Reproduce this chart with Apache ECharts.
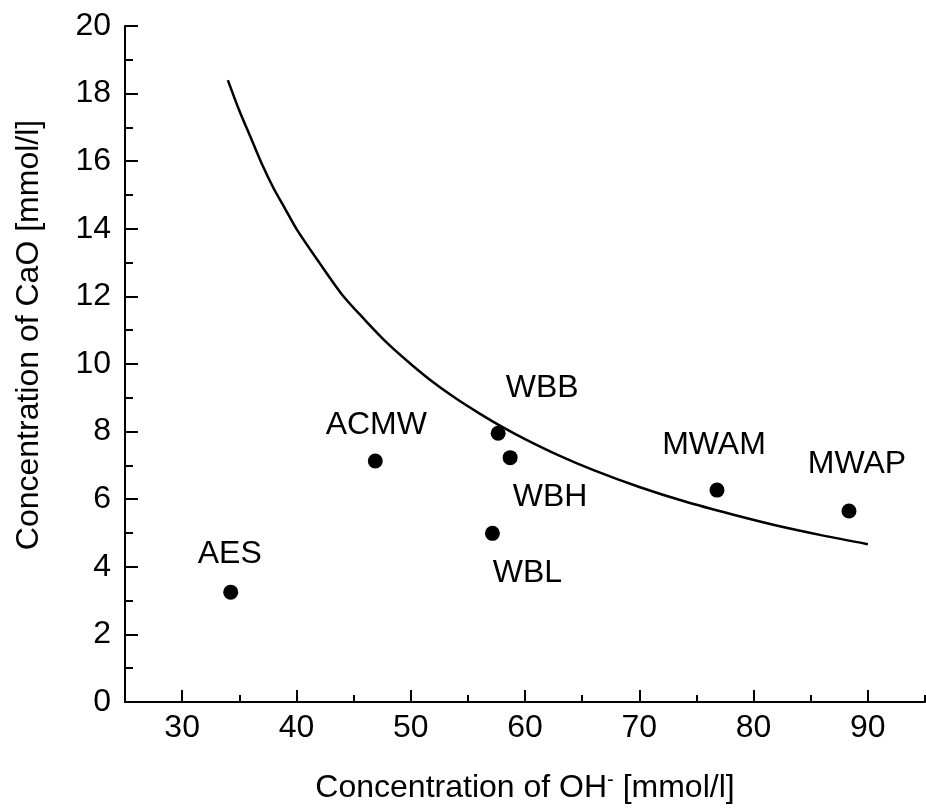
<!DOCTYPE html>
<html><head><meta charset="utf-8">
<script src="https://cdn.jsdelivr.net/npm/echarts@6/dist/echarts.min.js"></script>
<style>html,body{margin:0;padding:0;background:#fff}#c{width:926px;height:810px}</style>
</head><body><div id="c"></div>
<script>
const sampleNames = ['AES','ACMW','WBB','WBH','WBL','MWAM','MWAP'];
const ohValues   = [34.25, 46.9, 57.65, 58.7, 57.15, 76.8, 88.35];
const caoValues  = [3.25, 7.13, 7.95, 7.23, 4.99, 6.27, 5.65];
const curveOH  = [34, 35, 36, 37, 38, 39, 40, 42, 44, 46, 48, 50, 52, 54, 56, 58, 60, 63, 66, 70, 74, 78, 82, 86, 90];
const curveCaO = [18.4, 17.5, 16.7, 15.9, 15.2, 14.6, 14.0, 13.0, 12.05, 11.3, 10.6, 10.0, 9.45, 8.97, 8.54, 8.14, 7.78, 7.29, 6.86, 6.36, 5.93, 5.56, 5.22, 4.93, 4.67];
const xMajorTicks = [30, 40, 50, 60, 70, 80, 90];
const xMinorTicks = [35, 45, 55, 65, 75, 85, 95];

const labelOffsets = {AES:[-1,-38], ACMW:[1,-36], WBB:[44,-45], WBH:[40,40], WBL:[35,40], MWAM:[-3,-45], MWAP:[8,-47]};
const FONT = '"Liberation Sans", Arial, sans-serif';

const chart = echarts.init(document.getElementById('c'), null, {renderer:'canvas'});
chart.setOption({
  animation: false,
  backgroundColor: '#fff',
  textStyle: {fontFamily: FONT, color: '#000'},
  grid: {left: 125, right: 1, top: 26, bottom: 108, containLabel: false},
  xAxis: [{
    type: 'value', min: 25, max: 95,
    name: 'Concentration of OH{sup|-} [mmol/l]',
    nameLocation: 'middle', nameGap: 68,
    nameTextStyle: {fontSize: 32, fontFamily: FONT, color: '#000',
      rich: {sup: {fontSize: 20, fontFamily: FONT, color: '#000', padding: [0,0,16,0]}}},
    axisLine: {show: true, onZero: false, lineStyle: {color: '#000', width: 2}},
    axisTick: {show: true, inside: true, length: 12, lineStyle: {color: '#000', width: 2}, customValues: xMajorTicks},
    axisLabel: {fontSize: 32, fontFamily: FONT, color: '#000', margin: 10, customValues: xMajorTicks},
    splitLine: {show: false}
  }, {
    type: 'value', min: 25, max: 95, position: 'bottom',
    axisLine: {show: false},
    axisTick: {show: true, inside: true, length: 7, lineStyle: {color: '#000', width: 2}, customValues: xMinorTicks},
    axisLabel: {show: false},
    splitLine: {show: false}
  }],
  yAxis: {
    type: 'value', min: 0, max: 20, interval: 2,
    name: 'Concentration of CaO [mmol/l]',
    nameLocation: 'middle', nameGap: 80,
    nameTextStyle: {fontSize: 32, fontFamily: FONT, color: '#000', padding: [0,0,0,58]},
    axisLine: {show: true, lineStyle: {color: '#000', width: 2}},
    axisTick: {show: true, inside: true, length: 13, lineStyle: {color: '#000', width: 2}},
    minorTick: {show: true, splitNumber: 2, length: 8, lineStyle: {color: '#000', width: 2}},
    axisLabel: {fontSize: 32, fontFamily: FONT, color: '#000', margin: 14},
    splitLine: {show: false}
  },
  series: [{
    type: 'line', xAxisIndex: 0,
    data: curveOH.map((x, i) => [x, curveCaO[i]]),
    smooth: 0.3, showSymbol: false, symbol: 'none',
    lineStyle: {color: '#000', width: 2.5}, z: 2
  }, {
    type: 'scatter', xAxisIndex: 0,
    symbol: 'circle', symbolSize: 15,
    itemStyle: {color: '#000', opacity: 1},
    data: sampleNames.map((n, i) => ({name: n, value: [ohValues[i], caoValues[i]], label: {offset: labelOffsets[n]}})),
    label: {show: true, position: 'inside', formatter: '{b}', fontSize: 32, fontFamily: FONT, color: '#000', align: 'center', verticalAlign: 'middle'},
    z: 3
  }]
});
</script></body></html>
